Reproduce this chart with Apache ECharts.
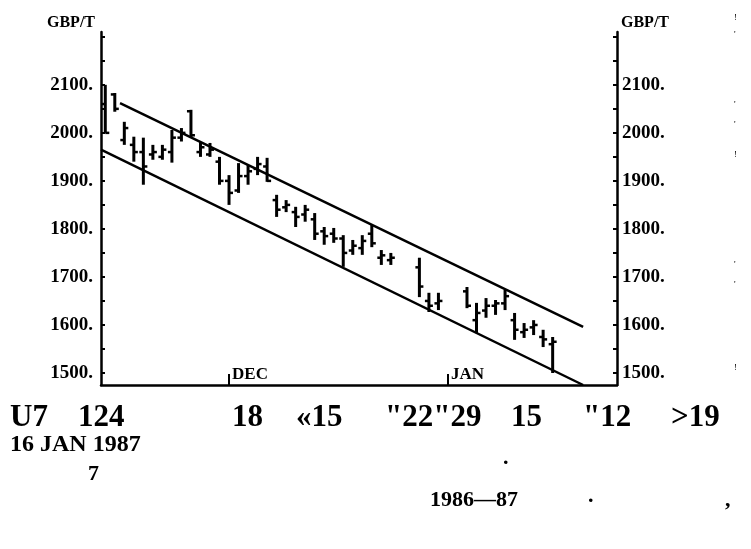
<!DOCTYPE html>
<html>
<head>
<meta charset="utf-8">
<script src="https://cdn.jsdelivr.net/npm/echarts@6/dist/echarts.min.js"></script>
<style>
  html, body { margin: 0; padding: 0; background: #fff; }
  #chart { width: 751px; height: 549px; }
</style>
</head>
<body>
<div id="chart"></div>
<script>
// daily price bars, GBP per tonne
var days = ['1986-11-12','1986-11-13','1986-11-14','1986-11-17','1986-11-18','1986-11-19','1986-11-20','1986-11-21',
  '1986-11-24','1986-11-25','1986-11-26','1986-11-27','1986-11-28',
  '1986-12-01','1986-12-02','1986-12-03','1986-12-04','1986-12-05',
  '1986-12-08','1986-12-09','1986-12-10','1986-12-11','1986-12-12',
  '1986-12-15','1986-12-16','1986-12-17','1986-12-18','1986-12-19',
  '1986-12-22','1986-12-23','1986-12-24','1986-12-29','1986-12-30','1986-12-31',
  '1987-01-05','1987-01-06','1987-01-07','1987-01-08','1987-01-09',
  '1987-01-12','1987-01-13','1987-01-14','1987-01-15','1987-01-16'];
var highs  = [2100,2083,2023,1992,1990,1975,1975,2006, 2010,2048,1981,1979,1950, 1912,1937,1933,1950,1948,
  1871,1860,1846,1850,1833, 1804,1802,1787,1777,1787, 1808,1756,1750,1740,1667,1667,
  1679,1646,1656,1652,1673, 1625,1604,1610,1590,1575];
var lows   = [2000,2044,1975,1940,1892,1944,1944,1938, 1982,1990,1950,1950,1892, 1850,1875,1892,1912,1898,
  1825,1835,1804,1815,1777, 1767,1771,1721,1746,1746, 1762,1725,1725,1658,1627,1631,
  1635,1583,1615,1621,1631, 1569,1573,1579,1554,1500];
var opens  = [2060,2080,1985,1975,1960,1955,1950,1960, 1990,2045,1960,1955,1940, 1900,1880,1910,1925,1930,
  1860,1845,1835,1830,1820, 1795,1790,1780,1755,1760, 1790,1740,1735,1720,1650,1645,
  1670,1610,1630,1640,1645, 1610,1585,1595,1575,1560];
var closes = [2000,2050,2010,1960,1930,1960,1965,1990, 2000,1995,1970,1965,1900, 1875,1910,1920,1935,1900,
  1840,1850,1825,1840,1790, 1785,1780,1750,1765,1775, 1770,1745,1740,1680,1640,1650,
  1640,1625,1640,1645,1660, 1590,1590,1600,1570,1565];

// channel lines: [trading days from 1 Dec 1986, price]
var upperLine = [[-11.45, 2062], [37.2, 1596]];
var lowerLine = [[-13.45, 1965], [37.2, 1475]];

var priceLabels = [1500, 1600, 1700, 1800, 1900, 2000, 2100];
var priceTicks = [1500, 1550, 1600, 1650, 1700, 1750, 1800, 1850, 1900, 1950, 2000, 2050, 2100, 2150, 2200];
var monthTicks = [0, 23];
var monthNames = ['DEC', 'JAN'];

// weekday count from 1 Dec 1986 (the chart is spaced by trading weekdays)
function tradingDay(s) {
  var p = s.split('-');
  var base = Date.UTC(1986, 11, 1);
  var t = Date.UTC(+p[0], +p[1] - 1, +p[2]);
  var n = 0, d, w;
  if (t >= base) {
    for (d = base; d < t; d += 864e5) { w = new Date(d).getUTCDay(); if (w > 0 && w < 6) n++; }
  } else {
    for (d = t; d < base; d += 864e5) { w = new Date(d).getUTCDay(); if (w > 0 && w < 6) n--; }
  }
  return n;
}

var barData = days.map(function (s, i) {
  return [tradingDay(s), opens[i], highs[i], lows[i], closes[i]];
});

var serif = '"Liberation Serif", "DejaVu Serif", serif';

function yAxisOf(pos) {
  return {
    type: 'value',
    position: pos,
    min: 1475,
    max: 2210,
    name: 'GBP/T',
    nameGap: 1,
    nameTextStyle: {
      fontFamily: serif, fontWeight: 'bold', fontSize: 16, color: '#000',
      align: pos === 'left' ? 'right' : 'left', padding: pos === 'left' ? [0, 6, 0, 0] : [0, 0, 0, 4]
    },
    splitLine: { show: false },
    axisLine: { show: true, onZero: false, lineStyle: { color: '#000', width: 2.5 } },
    axisTick: { show: true, inside: true, length: 4, customValues: priceTicks, lineStyle: { color: '#000', width: 2 } },
    axisLabel: {
      customValues: priceLabels,
      margin: pos === 'left' ? 8 : 5,
      fontFamily: serif, fontWeight: 'bold', fontSize: 19, color: '#000',
      formatter: function (v) { return v + '.'; }
    }
  };
}

var chart = echarts.init(document.getElementById('chart'));

// [text, left, vertical centre, font size]
var bottomText = [
  ['U7', 10, 418, 31], ['124', 78, 418, 31], ['18', 232, 418, 31], ['\u00ab15', 296, 418, 31],
  ['"22"29', 385, 418, 31], ['15', 511, 418, 31], ['"12', 583, 418, 31], ['>19', 671, 418, 31],
  ['16 JAN 1987', 10, 445, 24], ['7', 88, 474, 22], ['.', 503, 458, 22],
  ['1986\u201487', 430, 500, 22], ['.', 588, 496, 22], [',', 725, 500, 22]
];
var specks = [['!', 18], ["'", 35], ["'", 105], ["'", 125], ['!', 155], ["'", 265], ["'", 285], ['!', 368]];

chart.setOption({
  animation: false,
  backgroundColor: '#fff',
  grid: { left: 101, right: 134, top: 32, bottom: 164 },
  xAxis: {
    type: 'value',
    min: -13.45,
    max: 40.76,
    splitLine: { show: false },
    axisLine: { show: true, onZero: false, lineStyle: { color: '#000', width: 2.5 } },
    axisTick: { show: true, inside: true, length: 11, customValues: monthTicks, lineStyle: { color: '#000', width: 2 } },
    axisLabel: {
      customValues: monthTicks,
      inside: true,
      margin: 2,
      align: 'left',
      padding: [0, 0, 0, 3],
      fontFamily: serif, fontWeight: 'bold', fontSize: 17, color: '#000',
      formatter: function (v) { return monthNames[monthTicks.indexOf(v)] || ''; }
    }
  },
  yAxis: [yAxisOf('left'), yAxisOf('right')],
  series: [
    {
      type: 'line', data: upperLine, symbol: 'none', silent: true,
      lineStyle: { color: '#000', width: 2.5 }
    },
    {
      type: 'line', data: lowerLine, symbol: 'none', silent: true,
      lineStyle: { color: '#000', width: 2.5 }
    },
    {
      type: 'custom',
      data: barData,
      encode: { x: 0, y: [1, 2, 3, 4] },
      renderItem: function (params, api) {
        var x = api.value(0);
        var o = api.coord([x, api.value(1)]);
        var h = api.coord([x, api.value(2)]);
        var l = api.coord([x, api.value(3)]);
        var c = api.coord([x, api.value(4)]);
        var st = { stroke: '#000', lineWidth: 3 };
        var tk = { stroke: '#000', lineWidth: 2.5 };
        return {
          type: 'group',
          children: [
            { type: 'line', shape: { x1: h[0], y1: h[1], x2: l[0], y2: l[1] }, style: st },
            { type: 'line', shape: { x1: o[0] - 4, y1: o[1], x2: o[0], y2: o[1] }, style: tk },
            { type: 'line', shape: { x1: c[0], y1: c[1], x2: c[0] + 4, y2: c[1] }, style: tk }
          ]
        };
      }
    }
  ],
  graphic: bottomText.map(function (t) {
    return {
      type: 'text', left: t[1], top: t[2] - t[3] / 2, silent: true,
      style: { text: t[0], fontFamily: serif, fontWeight: 'bold', fontSize: t[3], fill: '#000' }
    };
  }).concat(specks.map(function (s) {
    return {
      type: 'text', left: 734, top: s[1] - 5, silent: true,
      style: { text: s[0], fontFamily: serif, fontSize: 9, fill: '#000' }
    };
  }))
});
</script>
</body>
</html>
